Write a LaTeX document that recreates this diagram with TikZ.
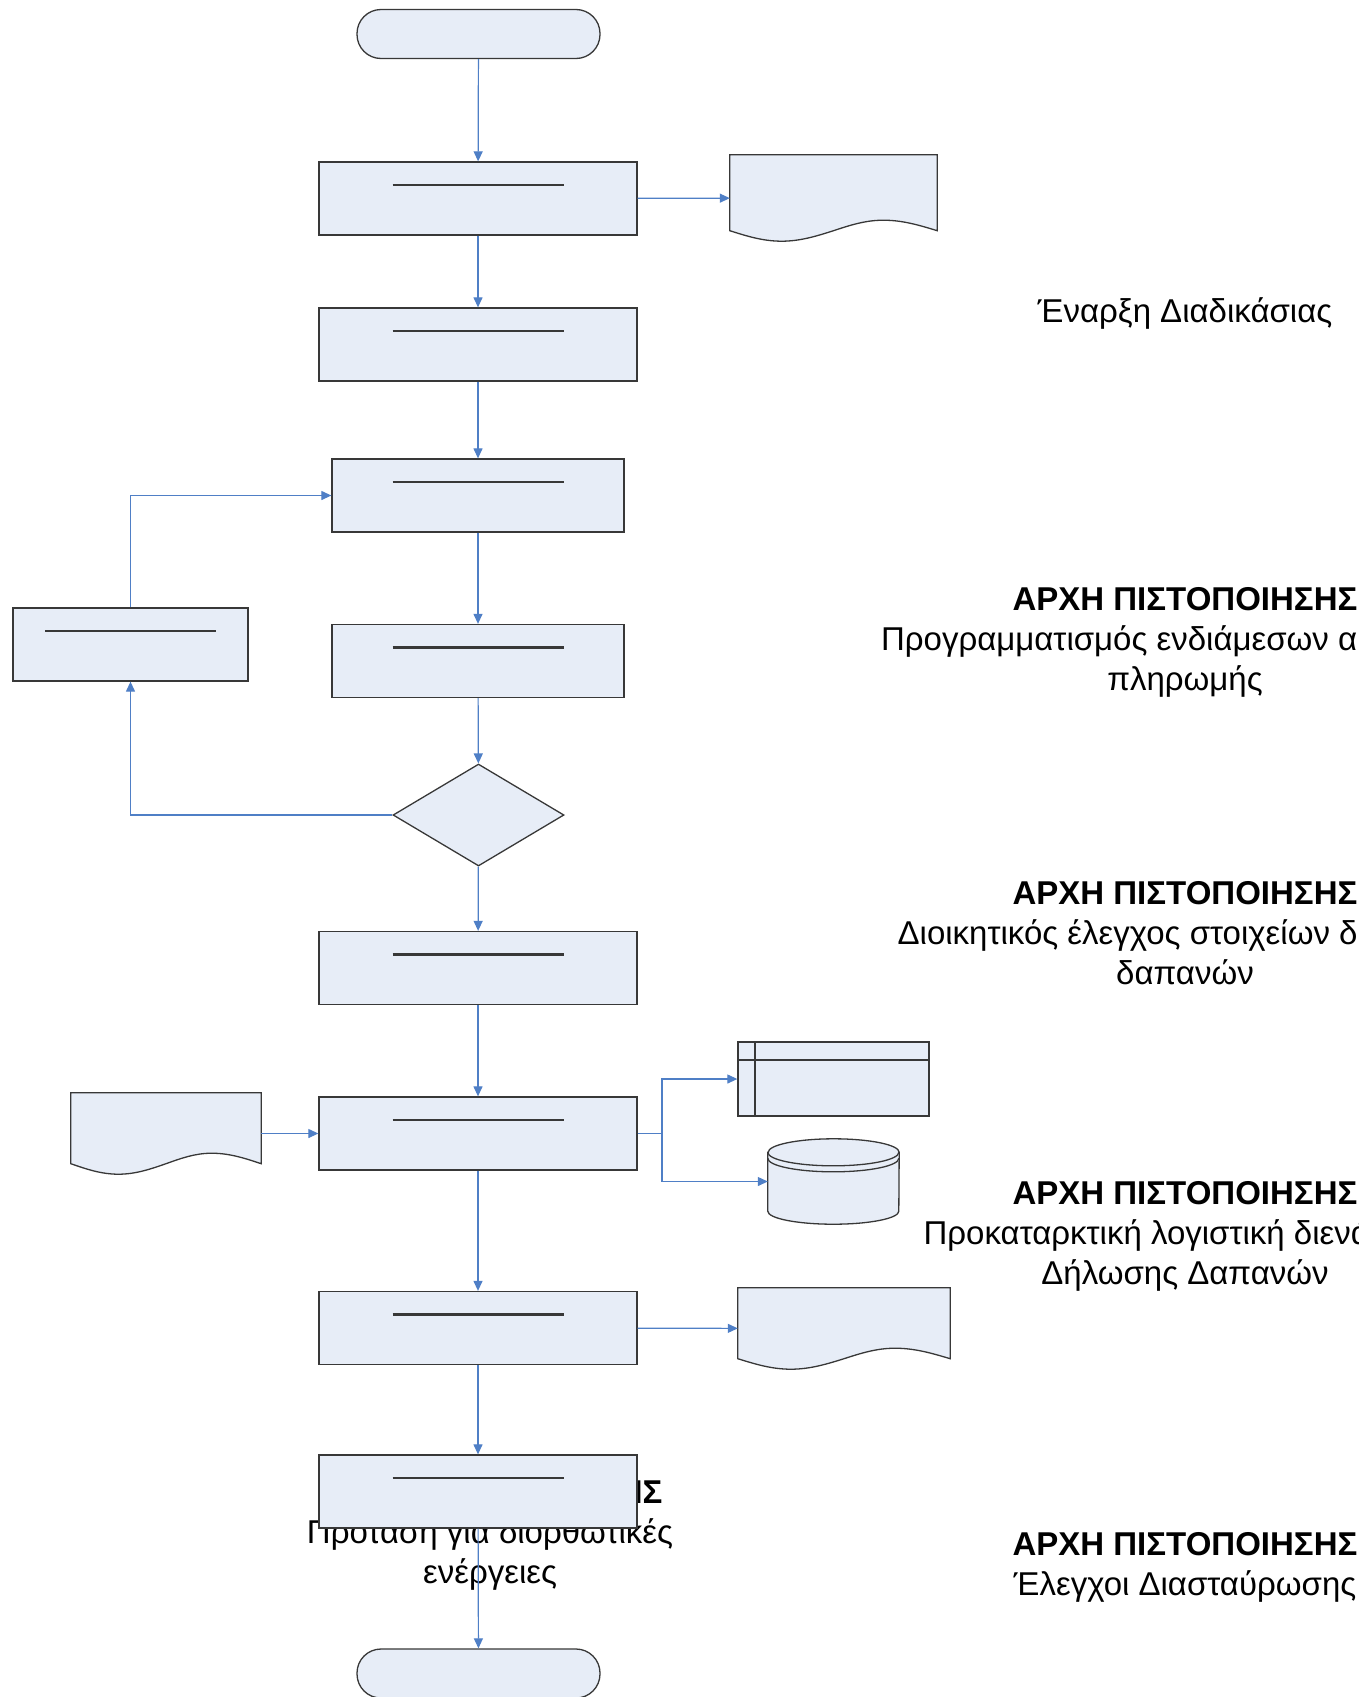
\documentclass[tikz,border=0pt]{standalone}
\usepackage{fontspec}
\setmainfont{Liberation Sans}
\usetikzlibrary{shapes.geometric,arrows.meta,calc}

\definecolor{boxfill}{HTML}{E7EDF7}
\definecolor{flowblue}{HTML}{4F7FC6}
\definecolor{edgegray}{HTML}{383838}

% wavy document outline round an empty node
\newcommand\docshape[1]{%
  \filldraw[shape line] (#1.north west) -- (#1.north east)
    -- ($(#1.south east)+(0,10.5pt)$)
    sin ($(#1.south west)!.74!(#1.south east)+(0,21pt)$)
    cos ($(#1.south west)!.5!(#1.south east)+(0,10.5pt)$)
    sin ($(#1.south west)!.25!(#1.south east)$)
    cos ($(#1.south west)+(0,10.5pt)$) -- cycle;}

% disk store round an empty node
\newcommand\drumshape[1]{%
  \filldraw[shape line] ([yshift=-13.5pt]#1.north west) -- ([yshift=13pt]#1.south west)
    arc[start angle=180, end angle=360, x radius=65.5pt, y radius=13pt]
    -- ([yshift=-13.5pt]#1.north east)
    arc[start angle=0, end angle=180, x radius=65.5pt, y radius=13.5pt] -- cycle;
  \draw[shape line, fill=none] ([yshift=-13.5pt]#1.north west)
    arc[start angle=180, end angle=360, x radius=65.5pt, y radius=13.5pt];
  \draw[shape line, fill=none] ([yshift=-19.5pt]#1.north west)
    arc[start angle=180, end angle=360, x radius=65.5pt, y radius=13.5pt];}

\begin{document}
\begin{tikzpicture}
  [x=1pt, y=-1pt,
   every node/.style={inner sep=0pt},
   shape line/.style={draw=edgegray, line width=1.3pt, fill=boxfill},
   proc/.style={shape line, rectangle, minimum height=73pt,
     path picture={\draw[line width=2.2pt] ([yshift=-23pt]path picture bounding box.north)
       ++(-85.5pt,0) -- ++(171pt,0);}},
   term/.style={shape line, rectangle, rounded corners=24pt,
     minimum width=243pt, minimum height=49pt},
   decision/.style={shape line, diamond, minimum width=171pt, minimum height=102pt},
   store/.style={shape line, rectangle, minimum width=191pt, minimum height=74pt,
     path picture={\draw[edgegray, line width=1.3pt]
       ([yshift=-18pt]path picture bounding box.north west) -- ([yshift=-18pt]path picture bounding box.north east)
       ([xshift=17pt]path picture bounding box.north west) -- ([xshift=17pt]path picture bounding box.south west);}},
   flow/.style={draw=flowblue, line width=1.2pt, -{Triangle[length=10pt,width=9pt]}},
   note/.style={align=center, font=\fontsize{33}{40}\selectfont}]
  \useasboundingbox (0,0) rectangle (1359,1697);
  \clip (0,0) rectangle (1359,1697);

  \node[note] (t1) at (1185,313) {Έναρξη Διαδικάσιας};
  \node[note] (t2) at (1185,642.5) {\textbf{ΑΡΧΗ ΠΙΣΤΟΠΟΙΗΣΗΣ}\\Προγραμματισμός ενδιάμεσων αιτημάτων\\πληρωμής};
  \node[note] (t3) at (1185,933) {\textbf{ΑΡΧΗ ΠΙΣΤΟΠΟΙΗΣΗΣ}\\Διοικητικός έλεγχος στοιχείων δήλωσης\\δαπανών};
  \node[note] (t4) at (1185,1236.5) {\textbf{ΑΡΧΗ ΠΙΣΤΟΠΟΙΗΣΗΣ}\\Προκαταρκτική λογιστική διενάργεια\\Δήλωσης Δαπανών};
  \node[note] (t5) at (1185,1567) {\textbf{ΑΡΧΗ ΠΙΣΤΟΠΟΙΗΣΗΣ}\\Έλεγχοι Διασταύρωσης};
  \node[note] (t6) at (490,1535.5) {\textbf{ΑΡΧΗ ΠΙΣΤΟΠΟΙΗΣΗΣ}\\Πρόταση για διορθωτικές\\ενέργειες};

  \node[term] (start) at (478.5,34) {};
  \node[proc, minimum width=318pt] (n1) at (478,198.5) {};
  \node[proc, minimum width=318pt] (n2) at (478,344.5) {};
  \node[proc, minimum width=292pt] (n3) at (478,495.5) {};
  \node[proc, minimum width=292pt] (n4) at (478,661) {};
  \node[proc, minimum width=235pt] (nl) at (130.5,644.5) {};
  \node[decision] (dec) at (478.5,815) {};
  \node[proc, minimum width=318pt] (n5) at (478,968) {};
  \node[proc, minimum width=318pt] (n6) at (478,1133.5) {};
  \node[proc, minimum width=318pt] (n7) at (478,1328) {};
  \node[proc, minimum width=318pt] (n8) at (478,1491.5) {};
  \node[term] (stop) at (478.5,1673.5) {};

  \node[minimum width=207pt, minimum height=86pt] (doc1) at (833.5,198) {};
  \node[minimum width=190pt, minimum height=81pt] (doc2) at (166,1133.5) {};
  \node[minimum width=212pt, minimum height=81pt] (doc3) at (844,1328.5) {};
  \node[store] (tbl) at (833.5,1079) {};
  \node[minimum width=131pt, minimum height=85pt] (db) at (833.5,1181.5) {};
  \docshape{doc1}
  \docshape{doc2}
  \docshape{doc3}
  \drumshape{db}
  \coordinate (split) at (662,1133.5);

  \foreach \from/\to in {start/n1,n1/n2,n2/n3,n3/n4,n4/dec,dec/n5,n5/n6,n6/n7,n7/n8,n8/stop,
      n1/doc1,doc2/n6,n7/doc3}
  \draw[flow] (\from) -- (\to);
  \draw[flow] (dec.west) -| (nl.south);
  \draw[flow] (nl.north) |- (n3.west);
  \draw[flow] (n6.east) -- (split) |- (tbl.west);
  \draw[flow] (split) |- (db.west);
\end{tikzpicture}
\end{document}
